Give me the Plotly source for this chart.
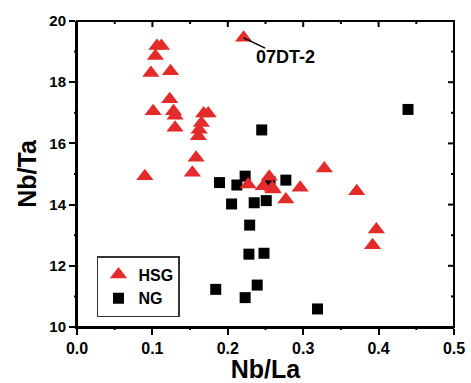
import plotly.graph_objects as go

# HSG (triangles)
hsg_x = [0.221, 0.106, 0.112, 0.104, 0.098, 0.124, 0.123, 0.101, 0.128, 0.130,
         0.130, 0.168, 0.174, 0.165, 0.162, 0.161, 0.158, 0.153, 0.090, 0.227,
         0.255, 0.247, 0.259, 0.260, 0.277, 0.296, 0.328, 0.371, 0.397, 0.392]
hsg_y = [19.45, 19.18, 19.18, 18.86, 18.30, 18.36, 17.44, 17.05, 17.05, 16.90,
         16.51, 16.98, 16.98, 16.67, 16.45, 16.23, 15.53, 15.04, 14.93, 14.66,
         14.91, 14.60, 14.55, 14.49, 14.17, 14.55, 15.18, 14.44, 13.19, 12.67]

# NG (squares)
ng_x = [0.439, 0.245, 0.189, 0.223, 0.212, 0.205, 0.235, 0.251, 0.229, 0.228,
        0.248, 0.184, 0.223, 0.239, 0.277, 0.256, 0.319]
ng_y = [17.11, 16.44, 14.72, 14.93, 14.64, 14.02, 14.06, 14.13, 13.33, 12.38,
        12.41, 11.23, 10.96, 11.37, 14.80, 14.75, 10.59]

x_ticks = [0.0, 0.1, 0.2, 0.3, 0.4, 0.5]
x_minor = [0.05, 0.15, 0.25, 0.35, 0.45]
x_ticklabels = ["0.0", "0.1", "0.2", "0.3", "0.4", "0.5"]
y_ticks = [10, 12, 14, 16, 18, 20]
y_minor = [11, 13, 15, 17, 19]
y_ticklabels = ["10", "12", "14", "16", "18", "20"]
x_range = [0, 0.5]
y_range = [10, 20]

label_text = "07DT-2"
label_x, label_y = hsg_x[0], hsg_y[0]

FONT = "Liberation Sans, Arial, sans-serif"
RED = "#E32B2B"

W, H = 471, 383
ML, MR, MT, MB = 77, 17, 21, 56
PW, PH = W - ML - MR, H - MT - MB
MAJ, MIN = 6, 3

fig = go.Figure()
fig.add_trace(go.Scatter(
    x=ng_x, y=ng_y, mode="markers", name="NG", legendrank=2,
    marker=dict(symbol="square", size=11, color="black", line=dict(width=0)),
))
fig.add_trace(go.Scatter(
    x=hsg_x, y=hsg_y, mode="markers", name="HSG", legendrank=1,
    marker=dict(symbol="triangle-up", size=15, color=RED, line=dict(width=0)),
))

fig.update_layout(
    width=W, height=H,
    margin=dict(l=ML, r=MR, t=MT, b=MB, autoexpand=False),
    paper_bgcolor="white", plot_bgcolor="white",
    font=dict(family=FONT, color="black"),
    xaxis=dict(range=x_range, tickvals=x_ticks, ticktext=x_ticklabels,
               ticks="outside", ticklen=MAJ, tickwidth=2, tickcolor="black",
               tickfont=dict(size=16, weight="bold", family=FONT),
               title=dict(text="Nb/La", font=dict(size=25, weight="bold", family=FONT),
                          standoff=8),
               showline=True, linewidth=2, linecolor="black",
               showgrid=False, zeroline=False),
    yaxis=dict(range=y_range, tickvals=y_ticks, ticktext=y_ticklabels,
               ticks="outside", ticklen=MAJ, tickwidth=2, tickcolor="black",
               tickfont=dict(size=15, weight="bold", family=FONT),
               title=dict(text="Nb/Ta", font=dict(size=25, weight="bold", family=FONT),
                          standoff=6),
               showline=True, linewidth=2, linecolor="black",
               showgrid=False, zeroline=False),
    legend=dict(x=0.053, y=0.232, xanchor="left", yanchor="top",
                bordercolor="#333333", borderwidth=1.5, bgcolor="white",
                font=dict(size=16, weight="bold", family=FONT),
                itemwidth=30, tracegroupgap=0),
    showlegend=True,
)

LINE = dict(color="black", width=2)
# frame (top and right edges)
fig.add_shape(type="rect", xref="x domain", yref="y domain", x0=0, x1=1, y0=0, y1=1,
              line=LINE, fillcolor="rgba(0,0,0,0)", layer="above")
# top ticks (inward) and bottom minor ticks (outward)
for vals, ln in ((x_ticks, MAJ), (x_minor, MIN)):
    for v in vals:
        fig.add_shape(type="line", xref="x", yref="y domain", x0=v, x1=v,
                      y0=1, y1=1 - ln / PH, line=LINE)
for v in x_minor:
    fig.add_shape(type="line", xref="x", yref="y domain", x0=v, x1=v,
                  y0=0, y1=-MIN / PH, line=LINE)
# right ticks (inward) and left minor ticks (outward)
for vals, ln in ((y_ticks, MAJ), (y_minor, MIN)):
    for v in vals:
        fig.add_shape(type="line", xref="x domain", yref="y", y0=v, y1=v,
                      x0=1, x1=1 - ln / PW, line=LINE)
for v in y_minor:
    fig.add_shape(type="line", xref="x domain", yref="y", y0=v, y1=v,
                  x0=0, x1=-MIN / PW, line=LINE)

# leader line from labelled point
fig.add_annotation(x=label_x, y=label_y, xref="x", yref="y", text="",
                   showarrow=True, arrowhead=0, arrowwidth=1.5, arrowcolor="black",
                   ax=23, ay=11, standoff=0, startstandoff=0)
fig.add_annotation(x=label_x, y=label_y, xref="x", yref="y", text=label_text,
                   showarrow=False, xanchor="left", yanchor="middle",
                   xshift=10, yshift=-19,
                   font=dict(size=18, weight="bold", family=FONT))

fig.write_html("out.html")
